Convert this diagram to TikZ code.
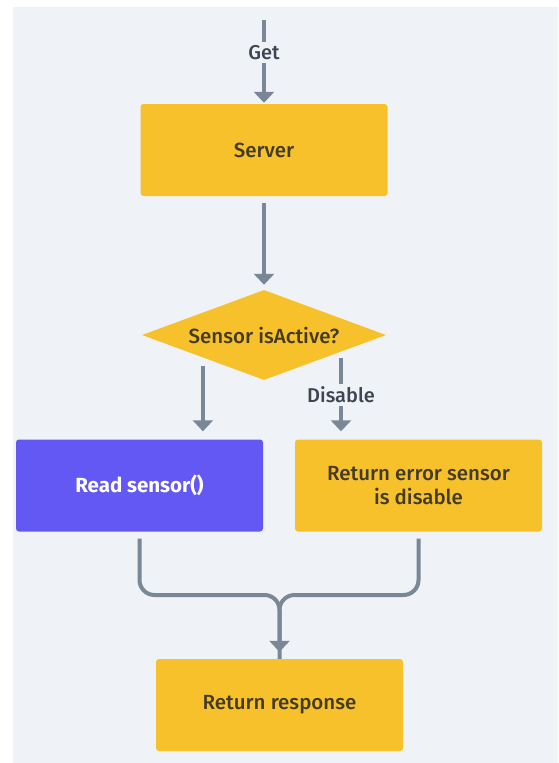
\documentclass[tikz,border=0pt]{standalone}
\usepackage{fontspec}
\setmainfont{Fira Sans}[UprightFont={* Medium}, BoldFont={* Bold}]
\usetikzlibrary{shapes.geometric,arrows.meta,calc}
\definecolor{pagebg}{HTML}{EFF3F8}
\definecolor{boxyellow}{HTML}{F6C12A}
\definecolor{boxpurple}{HTML}{6358F3}
\definecolor{boxtext}{HTML}{433A28}
\definecolor{linegray}{HTML}{7A8796}
\definecolor{labeltext}{HTML}{3E4550}
\tikzset{
  box/.style={draw=none, fill=boxyellow, rounded corners=3pt, minimum width=247pt,
    minimum height=92pt, inner sep=0pt, text=boxtext, font=\fontsize{20.5}{24}\selectfont,
    align=center},
  purplebox/.style={box, fill=boxpurple, text=white, font=\fontsize{20.5}{24}\selectfont\bfseries},
  decision/.style={diamond, aspect=2.71, fill=boxyellow, minimum width=244pt, minimum height=90pt,
    inner sep=0pt, text=boxtext, font=\fontsize{20.5}{24}\selectfont},
  conn/.style={draw=linegray, line width=4pt, -{Triangle[width=20pt,length=11pt]}},
  plain/.style={draw=linegray, line width=4pt},
  edgelabel/.style={fill=pagebg, text=labeltext, inner sep=3pt, font=\fontsize{20}{22}\selectfont}
}
\begin{document}
\begin{tikzpicture}[x=1pt,y=-1pt]
  % page and canvas
  \useasboundingbox (0,0) rectangle (558,763);
  \fill[white] (0,0) rectangle (558,763);
  \fill[pagebg] (13,7) rectangle (558,763);

  % nodes
  \node[box] (server) at (264,150) {Server};
  \node[decision] (dia) at (264,335) {Sensor isActive?};
  \node[purplebox] (read) at (139.5,485.5) {Read sensor()};
  \node[box] (err) at (418.5,485.5) {Return error sensor\\is disable};
  \node[box] (resp) at (279.5,705) {Return response};

  \coordinate (entry) at (264,20);
  \coordinate (yesout) at ($(dia.west)!0.5!(dia.south)$);
  \coordinate (noout) at ($(dia.south)!0.63!(dia.east)$);
  \coordinate (join) at (279.5,595);

  % connectors
  \draw[conn, shorten >=1pt] (entry) -- node[edgelabel, pos=0.39] {Get} (server.north);
  \draw[conn, shorten <=7pt, shorten >=5pt] (server.south) -- (dia.north);
  \draw[conn, shorten <=8pt, shorten >=8pt] (yesout) -- (yesout |- read.north);
  \draw[conn, shorten <=6pt, shorten >=8pt] (noout) -- node[edgelabel, pos=0.49] {Disable} (noout |- err.north);

  \draw[plain, rounded corners=15pt, shorten <=7pt] (read.south) |- (join) -- (resp.north);
  \draw[conn, rounded corners=15pt, shorten <=7pt, shorten >=7pt] (err.south) |- (join) -- (resp.north);
\end{tikzpicture}
\end{document}
